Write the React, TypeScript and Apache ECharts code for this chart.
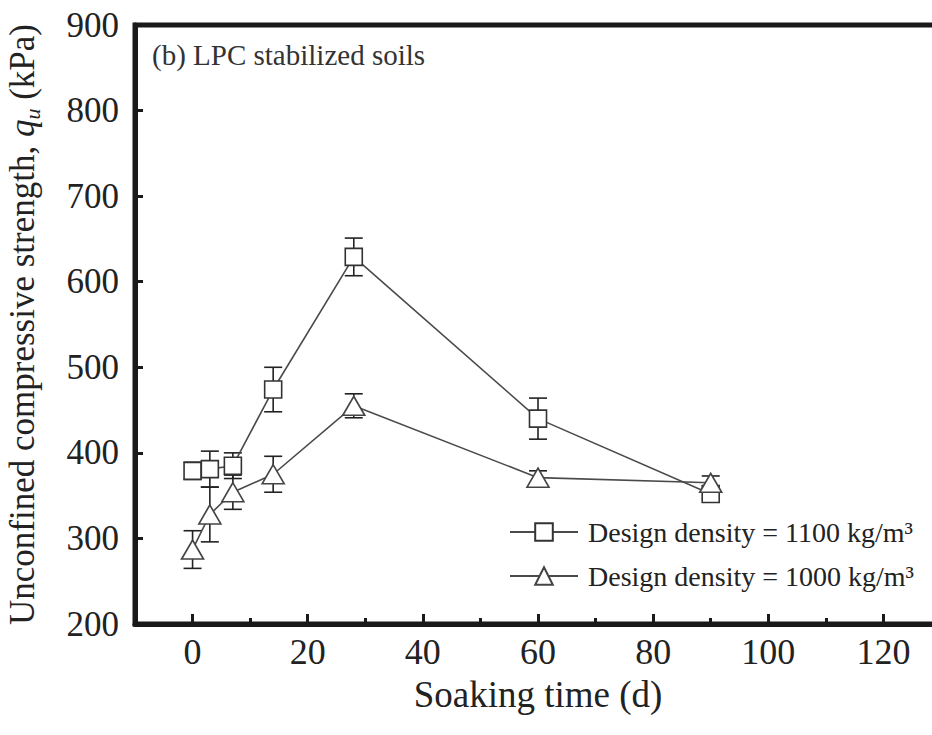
import React, { useEffect, useRef } from "react";
import * as echarts from "echarts";

// Soaking time (days)
const days = [0, 3, 7, 14, 28, 60, 90];
// Unconfined compressive strength (kPa), design density 1100 kg/m3
const qu1100 = [379, 381, 385, 474, 629, 440, 352];
const err1100 = [10, 21, 15, 26, 22, 24, 6];
// Unconfined compressive strength (kPa), design density 1000 kg/m3
const qu1000 = [287, 328, 354, 375, 455, 371, 365];
const err1000 = [22, 32, 20, 21, 14, 8, 8];

const legend1100 = "Design density = 1100 kg/m³";
const legend1000 = "Design density = 1000 kg/m³";
const panelLabel = "(b) LPC stabilized soils";

const FONT = "'Liberation Serif', 'Times New Roman', serif";
const INK = "#1a1a1a";

function errorSeries(vals: number[], errs: number[]) {
  return {
    type: "custom",
    silent: true,
    z: 1,
    data: days.map((d, i) => [d, vals[i], errs[i]]),
    encode: { x: 0, y: 1 },
    renderItem: (_params: any, api: any) => {
      const x = api.value(0);
      const y = api.value(1);
      const e = api.value(2);
      const top = api.coord([x, y + e]);
      const bot = api.coord([x, y - e]);
      const hw = 9;
      const style = { stroke: "#222", lineWidth: 1.6 };
      return {
        type: "group",
        children: [
          { type: "line", shape: { x1: top[0], y1: top[1], x2: bot[0], y2: bot[1] }, style },
          { type: "line", shape: { x1: top[0] - hw, y1: top[1], x2: top[0] + hw, y2: top[1] }, style },
          { type: "line", shape: { x1: bot[0] - hw, y1: bot[1], x2: bot[0] + hw, y2: bot[1] }, style },
        ],
      };
    },
  };
}

export default function App() {
  const ref = useRef<HTMLDivElement>(null);

  useEffect(() => {
    if (!ref.current) return;
    const chart = echarts.init(ref.current, undefined, { renderer: "svg" });
    chart.setOption({
      animation: false,
      backgroundColor: "#ffffff",
      title: {
        text: panelLabel,
        left: 152,
        top: 40,
        padding: 0,
        textStyle: { fontFamily: FONT, fontSize: 29, fontWeight: "normal", color: "#333" },
      },
      grid: {
        left: 135,
        top: 25,
        right: -9,
        bottom: 111,
        outerBoundsMode: "none",
        containLabel: false,
        show: true,
        borderColor: INK,
        borderWidth: 5,
        backgroundColor: "transparent",
      },
      legend: {
        orient: "vertical",
        left: 509,
        top: 518,
        itemWidth: 68,
        itemHeight: 22,
        itemGap: 16,
        padding: 0,
        data: [legend1100, legend1000],
        textStyle: { fontFamily: FONT, fontSize: 28, color: "#222", padding: [0, 0, 0, 5] },
      },
      xAxis: [
        {
          type: "value",
          min: -10,
          max: 130,
          splitNumber: 7,
          name: "Soaking time (d)",
          nameLocation: "middle",
          nameGap: 52,
          nameMoveOverlap: false,
          nameTextStyle: { fontFamily: FONT, fontSize: 37, color: "#222" },
          axisLine: { show: true, onZero: false, lineStyle: { color: INK, width: 5 } },
          axisTick: { show: true, inside: true, length: 10, lineStyle: { color: INK, width: 3 } },
          axisLabel: {
            showMinLabel: false,
            showMaxLabel: false,
            margin: 10,
            fontFamily: FONT,
            fontSize: 36,
            color: "#222",
          },
          splitLine: { show: false },
        },
        {
          // minor ticks at the odd tens (10, 30, 50, ...)
          type: "value",
          position: "bottom",
          min: -10,
          max: 130,
          interval: 20,
          axisLine: { show: false, onZero: false },
          axisTick: { show: true, inside: true, length: 6, lineStyle: { color: INK, width: 3 } },
          axisLabel: { show: false },
          splitLine: { show: false },
        },
      ],
      yAxis: {
        type: "value",
        min: 200,
        max: 900,
        interval: 100,
        name: "{n|Unconfined compressive strength, }{q|q}{u|u}{n| (kPa)}",
        nameLocation: "middle",
        nameRotate: 90,
        nameGap: 92,
        nameMoveOverlap: false,
        nameTextStyle: {
          fontFamily: FONT,
          color: "#222",
          rich: {
            n: { fontFamily: FONT, fontSize: 35, color: "#222", lineHeight: 42 },
            q: { fontFamily: FONT, fontSize: 35, fontStyle: "italic", color: "#222", lineHeight: 42 },
            u: {
              fontFamily: FONT,
              fontSize: 22,
              fontStyle: "italic",
              color: "#222",
              lineHeight: 18,
              verticalAlign: "bottom",
            },
          },
        },
        axisLine: { show: true, onZero: false, lineStyle: { color: INK, width: 5 } },
        axisTick: { show: true, inside: true, length: 8, lineStyle: { color: INK, width: 3 } },
        axisLabel: { margin: 16, fontFamily: FONT, fontSize: 35, color: "#222" },
        splitLine: { show: false },
      },
      series: [
        errorSeries(qu1100, err1100),
        errorSeries(qu1000, err1000),
        {
          name: legend1100,
          type: "line",
          z: 3,
          data: days.map((d, i) => [d, qu1100[i]]),
          symbol: "rect",
          symbolSize: 17,
          lineStyle: { color: "#4a4a4a", width: 1.6 },
          itemStyle: { color: "#ffffff", borderColor: "#333", borderWidth: 1.6 },
        },
        {
          name: legend1000,
          type: "line",
          z: 3,
          data: days.map((d, i) => [d, qu1000[i]]),
          symbol: "triangle",
          symbolSize: [22, 19],
          lineStyle: { color: "#4a4a4a", width: 1.6 },
          itemStyle: { color: "#ffffff", borderColor: "#444", borderWidth: 1.6 },
        },
      ],
    });
    return () => chart.dispose();
  }, []);

  return (
    <div
      ref={ref}
      style={{ position: "fixed", left: 0, top: 0, width: 932, height: 735, background: "#fff" }}
    />
  );
}
